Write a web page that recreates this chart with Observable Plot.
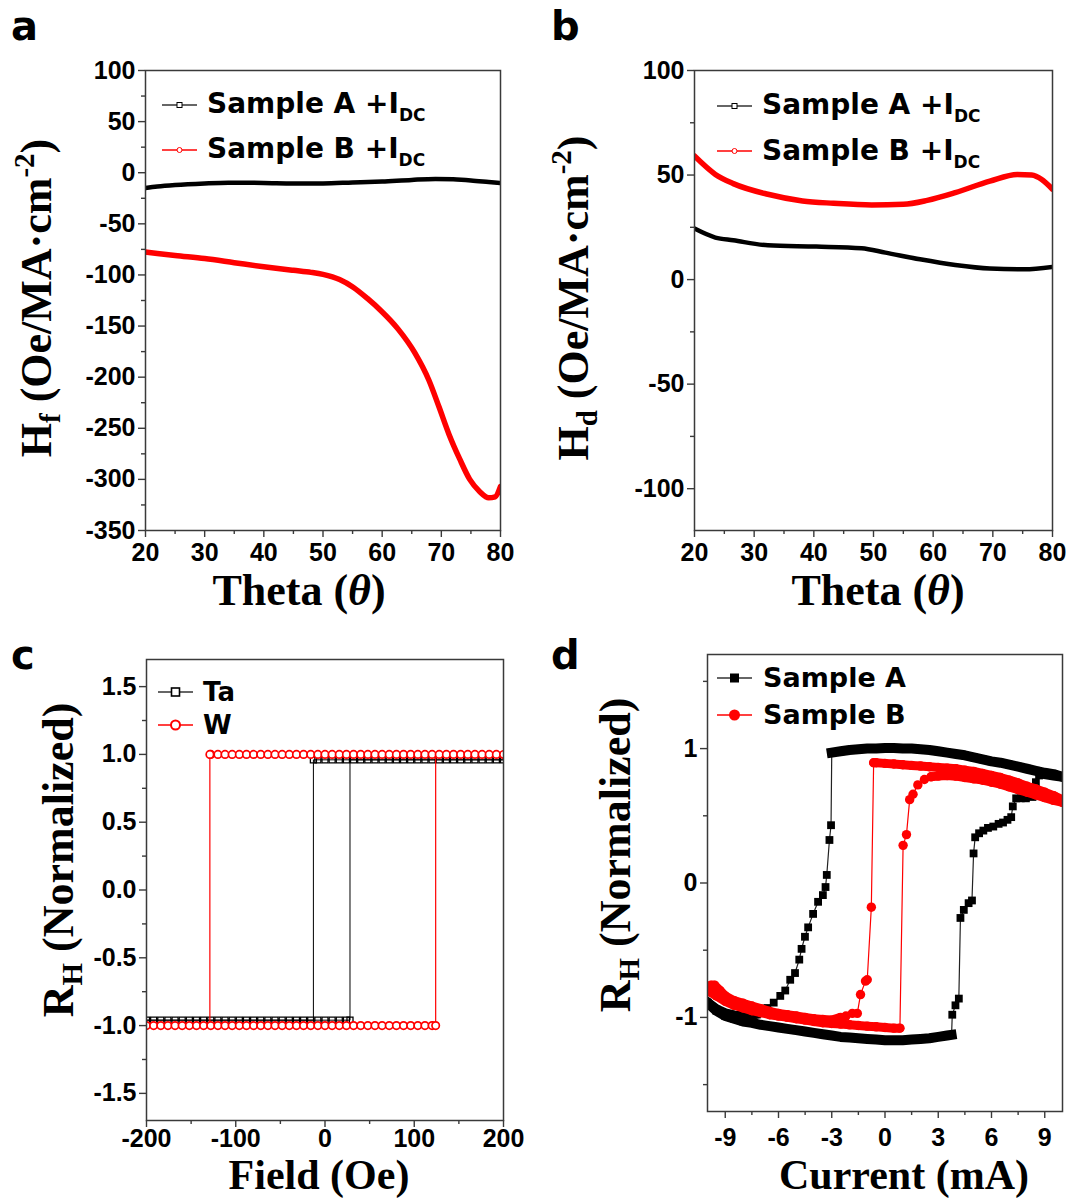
<!DOCTYPE html>
<html><head><meta charset="utf-8">
<script src="https://cdn.jsdelivr.net/npm/d3@7"></script>
<script src="https://cdn.jsdelivr.net/npm/@observablehq/plot@0.6"></script>
<style>
html,body{margin:0;padding:0;background:#fff;}
#fig{position:relative;width:1083px;height:1201px;overflow:hidden;background:#fff;}
</style></head><body><div id="fig"></div>
<script>
// ---------- Panel a : H_f vs theta ----------
const thetaA_a = [20, 22, 25, 30, 34, 40, 45, 50, 55, 60, 65, 69, 72, 75, 78, 80];
const hfSampleA = [-15, -13.5, -12, -10.5, -9.8, -10, -10.5, -10.5, -9.5, -8.5, -7, -6.2, -6.5, -7.5, -9, -10];
const thetaB_a = [20, 22, 25, 30, 35, 40, 45, 48, 50, 52.8, 55.1, 57.5, 59.8, 62.7, 65.5, 67.9, 69.6, 71.3, 73.1, 74.8, 76.5, 78, 79.1, 80];
const hfSampleB = [-77.5, -79, -81, -84, -88, -92, -95.5, -97.5, -99.5, -104.5, -112, -123, -135, -153, -176, -203, -229, -256, -280, -300, -312, -318, -317, -307];
const thetaTicks = [20, 30, 40, 50, 60, 70, 80];
const thetaMinor = [25, 35, 45, 55, 65, 75];
const hfTicks = [-350, -300, -250, -200, -150, -100, -50, 0, 50, 100];
const hfMinor = [-325, -275, -225, -175, -125, -75, -25, 25, 75];

// ---------- Panel b : H_d vs theta ----------
const thetaA_b = [20, 23.5, 26.5, 32.3, 40.4, 48, 52, 57.8, 63.7, 69.5, 75.3, 80];
const hdSampleA = [24.4, 20.1, 18.8, 16.4, 15.8, 15, 12.9, 9.7, 7, 5.3, 4.9, 6.1];
const thetaB_b = [20, 23.5, 26.5, 32.3, 38.1, 43.3, 49.7, 55, 59, 63.7, 69.5, 74.1, 76.5, 78.2, 80];
const hdSampleB = [59.1, 50.3, 45.9, 40.8, 37.6, 36.5, 35.7, 36, 37.9, 41.6, 47.1, 50.3, 50, 47.9, 43.2];
const hdTicks = [-100, -50, 0, 50, 100];
const hdMinor = [-75, -25, 25, 75];

// ---------- Panel c : R_H vs field ----------
const fieldSteps = [-200,-192,-184,-176,-168,-160,-152,-144,-136,-128,-120,-112,-104,-96,-88,-80,-72,-64,-56,-48,-40,-32,-24,-16,-8,0,8,16,24,32,40,48,56,64,72,80,88,96,104,112,120,128,136,144,152,160,168,176,184,192,200];
const taLevels = [-0.96, 0.96];      // low, high
const taSwitch = [-13, 28];          // switch down, switch up
const wLevels = [-1.0, 1.0];
const wSwitch = [-129, 124];
const fieldTicks = [-200, -100, 0, 100, 200];
const fieldMinor = [-150, -50, 50, 150];
const rhTicksC = [-1.5, -1, -0.5, 0, 0.5, 1, 1.5];
const rhMinorC = [-1.25, -0.75, -0.25, 0.25, 0.75, 1.25];

// ---------- Panel d : R_H vs current ----------
const sampleA_topDown = [[10,0.79],[9.5,0.81],[9,0.82],[8.5,0.835],[8,0.85],[7.5,0.865],[7,0.88],[6.5,0.895],[6,0.905],[5.5,0.92],[5,0.935],[4.5,0.95],[4,0.96],[3.5,0.97],[3,0.98],[2.5,0.99],[2,0.995],[1.5,1.0],[1,1.0],[0.5,1.005],[0,1.005],[-0.5,1.0],[-1,1.0],[-1.5,0.995],[-2,0.99],[-2.5,0.98],[-3,0.97]];
const sampleA_switchDown = [[-3.04,0.43],[-3.13,0.32],[-3.28,0.06],[-3.35,-0.03],[-3.5,-0.09],[-3.77,-0.14],[-4.05,-0.23],[-4.33,-0.33],[-4.51,-0.4],[-4.7,-0.49],[-4.83,-0.57],[-5.07,-0.67],[-5.34,-0.72],[-5.62,-0.8],[-5.9,-0.84],[-6.27,-0.89],[-6.63,-0.93],[-6.91,-0.96]];
const sampleA_bottomDown = [[-7.3,-0.975],[-8,-0.99],[-8.5,-0.985],[-9,-0.97],[-9.5,-0.94],[-10,-0.89]];
const sampleA_bottomUp = [[-10,-0.89],[-9.5,-0.95],[-9,-0.99],[-8.5,-1.01],[-8,-1.03],[-7.5,-1.04],[-7,-1.055],[-6.5,-1.065],[-6,-1.075],[-5.5,-1.085],[-5,-1.095],[-4.5,-1.105],[-4,-1.115],[-3.5,-1.125],[-3,-1.135],[-2.5,-1.145],[-2,-1.15],[-1.5,-1.155],[-1,-1.16],[-0.5,-1.165],[0,-1.17],[0.5,-1.17],[1,-1.17],[1.5,-1.165],[2,-1.16],[2.5,-1.155],[3,-1.145],[3.5,-1.135],[3.75,-1.13]];
const sampleA_switchUp = [[3.79,-0.98],[3.97,-0.91],[4.16,-0.86],[4.25,-0.26],[4.44,-0.2],[4.71,-0.15],[4.9,-0.13],[4.99,0.22],[5.08,0.34],[5.3,0.37],[5.54,0.39],[5.8,0.41],[6.1,0.42],[6.4,0.44],[6.65,0.45],[6.9,0.47],[7.11,0.49],[7.2,0.57],[7.39,0.63],[7.65,0.63],[7.94,0.63],[8.31,0.64],[8.5,0.75],[8.68,0.8]];
const sampleA_topUp = [[9,0.81],[9.5,0.8],[10,0.79]];

const sampleB_topDown = [[10,0.62],[9.5,0.65],[9,0.675],[8.5,0.7],[8,0.72],[7.5,0.745],[7,0.765],[6.5,0.785],[6,0.8],[5.5,0.815],[5,0.83],[4.5,0.84],[4,0.85],[3.5,0.855],[3,0.86],[2.5,0.865],[2,0.87],[1.5,0.875],[1,0.88],[0.5,0.885],[0,0.89],[-0.5,0.895],[-0.64,0.895]];
const sampleB_switchDown = [[-0.77,-0.18],[-1.0,-0.72],[-1.1,-0.73],[-1.38,-0.83],[-1.56,-0.97],[-1.84,-0.97],[-2.2,-0.99]];
const sampleB_bottomDown = [[-2.5,-1.0],[-3,-1.02],[-3.5,-1.015],[-4,-1.01],[-4.5,-1.0],[-5,-0.99],[-5.5,-0.98],[-6,-0.97],[-6.5,-0.955],[-7,-0.935],[-7.5,-0.915],[-8,-0.895],[-8.5,-0.875],[-9,-0.84],[-9.3,-0.8],[-9.6,-0.76],[-9.8,-0.76],[-10,-0.78]];
const sampleB_bottomUp = [[-10,-0.8],[-9.5,-0.84],[-9,-0.88],[-8.5,-0.91],[-8,-0.93],[-7.5,-0.95],[-7,-0.965],[-6.5,-0.98],[-6,-0.99],[-5.5,-1.0],[-5,-1.01],[-4.5,-1.02],[-4,-1.03],[-3.5,-1.04],[-3,-1.045],[-2.5,-1.05],[-2,-1.055],[-1.5,-1.06],[-1,-1.065],[-0.5,-1.07],[0,-1.075],[0.5,-1.08],[0.84,-1.08]];
const sampleB_switchUp = [[1.02,0.28],[1.21,0.36],[1.39,0.62],[1.58,0.66],[1.85,0.73],[2.22,0.77]];
const sampleB_topUp = [[2.59,0.79],[3,0.795],[3.5,0.8],[4,0.795],[4.5,0.785],[5,0.775],[5.5,0.765],[6,0.75],[6.5,0.735],[7,0.715],[7.5,0.695],[8,0.675],[8.5,0.655],[9,0.635],[9.5,0.615],[10,0.6]];
const currentTicks = [-9, -6, -3, 0, 3, 6, 9];
const currentMinor = [-7.5, -4.5, -1.5, 1.5, 4.5, 7.5];
const rhTicksD = [-1, 0, 1];
const rhMinorD = [-1.5, -0.5, 0.5, 1.5];

// ---------- helpers ----------
const fig = document.getElementById("fig");
const RED = "#ff0000", BLACK = "#000000", AX = "#3a3a3a";
const baseStyle = {fontFamily: "'Liberation Sans', Arial, sans-serif", fontSize: "25px", fontWeight: "bold", color: "#000", background: "transparent", overflow: "visible"};
const fmtInt = d => String(d);
const fmt1 = d => d.toFixed(1);
const blank = () => "";

function frameAxes(xt, xm, yt, ym, xf, yf, xPad = 6) {
  const common = {label: null, stroke: AX, strokeWidth: 1.4, fill: "#000", fontSize: 25, fontWeight: "bold"};
  return [
    Plot.axisX({...common, ticks: xt, tickSize: 7, tickPadding: xPad, tickFormat: xf}),
    Plot.axisX({...common, ticks: xm, tickSize: 4, tickFormat: blank}),
    Plot.axisY({...common, ticks: yt, tickSize: 7, tickPadding: 3, tickFormat: yf}),
    Plot.axisY({...common, ticks: ym, tickSize: 4, tickFormat: blank}),
    Plot.frame({stroke: AX, strokeWidth: 1.5})
  ];
}
function place(svg, left, top) {
  svg.style.position = "absolute";
  svg.style.left = left + "px";
  svg.style.top = top + "px";
  fig.appendChild(svg);
}
const zipRows = (xs, ys) => xs.map((x, i) => ({x, y: ys[i]}));

// ---------- Panel a ----------
const pa = Plot.plot({
  width: 540, height: 600, marginLeft: 145, marginRight: 40, marginTop: 70, marginBottom: 70,
  x: {domain: [20, 80]}, y: {domain: [-350, 100]}, style: baseStyle,
  marks: [
    Plot.line(zipRows(thetaA_a, hfSampleA), {x: "x", y: "y", stroke: BLACK, strokeWidth: 4.5, curve: "monotone-x", clip: true}),
    Plot.line(zipRows(thetaB_a, hfSampleB), {x: "x", y: "y", stroke: RED, strokeWidth: 5.5, curve: "monotone-x", clip: true}),
    ...frameAxes(thetaTicks, thetaMinor, hfTicks, hfMinor, fmtInt, fmtInt)
  ]
});
place(pa, 0, 0);

// ---------- Panel b ----------
const pb = Plot.plot({
  width: 542, height: 600, marginLeft: 153, marginRight: 31, marginTop: 70, marginBottom: 70,
  x: {domain: [20, 80]}, y: {domain: [-120, 100]}, style: baseStyle,
  marks: [
    Plot.line(zipRows(thetaA_b, hdSampleA), {x: "x", y: "y", stroke: BLACK, strokeWidth: 4.5, curve: "monotone-x", clip: true}),
    Plot.line(zipRows(thetaB_b, hdSampleB), {x: "x", y: "y", stroke: RED, strokeWidth: 5.5, curve: "monotone-x", clip: true}),
    ...frameAxes(thetaTicks, thetaMinor, hdTicks, hdMinor, fmtInt, fmtInt)
  ]
});
place(pb, 541, 0);

// ---------- Panel c ----------
function loopPath(levels, sw) {
  const [lo, hi] = levels, [down, up] = sw;
  return [[-200, lo], [up, lo], [up, hi], [200, hi], [down, hi], [down, lo], [-200, lo]].map(([x, y]) => ({x, y}));
}
function loopMarkers(levels, sw) {
  const [lo, hi] = levels, [down, up] = sw;
  const low = fieldSteps.filter(f => f < up).map(f => ({x: f, y: lo})).concat([{x: up, y: lo}]);
  const high = fieldSteps.filter(f => f > down).map(f => ({x: f, y: hi})).concat([{x: down, y: hi}]);
  return low.concat(high);
}
const pc = Plot.plot({
  width: 540, height: 601, marginLeft: 146, marginRight: 37, marginTop: 59, marginBottom: 81,
  x: {domain: [-200, 200]}, y: {domain: [-1.7, 1.7]}, style: baseStyle,
  marks: [
    Plot.line(loopPath(taLevels, taSwitch), {x: "x", y: "y", stroke: BLACK, strokeWidth: 1}),
    Plot.dot(loopMarkers(taLevels, taSwitch), {x: "x", y: "y", symbol: "square", r: 3.4, stroke: BLACK, strokeWidth: 1.3, fill: "none", clip: true}),
    Plot.line(loopPath(wLevels, wSwitch), {x: "x", y: "y", stroke: RED, strokeWidth: 1.2}),
    Plot.dot(loopMarkers(wLevels, wSwitch), {x: "x", y: "y", symbol: "circle", r: 3.7, stroke: RED, strokeWidth: 1.7, fill: "white", clip: true}),
    ...frameAxes(fieldTicks, fieldMinor, rhTicksC, rhMinorC, fmtInt, fmt1, 2)
  ]
});
place(pc, 0, 600);

// ---------- Panel d ----------
function sampleRows(sample, segs) {
  return segs.flatMap(([pts, band], k) => pts.map(([I, R]) => ({sample, seg: sample + k, band, I, R})));
}
const rowsA = sampleRows("A", [[sampleA_topDown, true], [sampleA_switchDown, false], [sampleA_bottomDown, true], [sampleA_bottomUp, true], [sampleA_switchUp, false], [sampleA_topUp, true]]);
const rowsB = sampleRows("B", [[sampleB_topDown, true], [sampleB_switchDown, false], [sampleB_bottomDown, true], [sampleB_bottomUp, true], [sampleB_switchUp, false], [sampleB_topUp, true]]);
const pd = Plot.plot({
  width: 542, height: 601, marginLeft: 166, marginRight: 21, marginTop: 54, marginBottom: 90,
  x: {domain: [-10, 10]}, y: {domain: [-1.7, 1.7]}, style: baseStyle,
  marks: [
    Plot.line(rowsA, {x: "I", y: "R", stroke: "#222", strokeWidth: 1.2, clip: true}),
    Plot.line(rowsA.filter(d => d.band), {x: "I", y: "R", z: "seg", stroke: BLACK, strokeWidth: 10, strokeLinecap: "square", clip: true}),
    Plot.dot(rowsA, {x: "I", y: "R", symbol: "square", r: 4.4, fill: BLACK, stroke: "none", clip: true}),
    Plot.line(rowsB, {x: "I", y: "R", stroke: RED, strokeWidth: 1.2, clip: true}),
    Plot.line(rowsB.filter(d => d.band), {x: "I", y: "R", z: "seg", stroke: RED, strokeWidth: 9, strokeLinecap: "round", clip: true}),
    Plot.dot(rowsB, {x: "I", y: "R", symbol: "circle", r: 4.7, fill: RED, stroke: "none", clip: true}),
    ...frameAxes(currentTicks, currentMinor, rhTicksD, rhMinorD, fmtInt, fmtInt, 10)
  ]
});
place(pd, 541, 600);

// ---------- overlay: panel letters, axis titles, legends ----------
const SERIF = "'Liberation Serif', 'Times New Roman', serif";
const SANS = "'DejaVu Sans', Verdana, sans-serif";
const TS = 44;
function yTitle(x, y, html) {
  return `<text x="${x}" y="${y}" transform="rotate(-90 ${x} ${y})" text-anchor="middle" font-family="${SERIF}" font-weight="bold" font-size="${TS}">${html}</text>`;
}
function xTitle(x, y, html, size = TS) {
  return `<text x="${x}" y="${y}" text-anchor="middle" font-family="${SERIF}" font-weight="bold" font-size="${size}">${html}</text>`;
}
const thetaHtml = `Theta (<tspan font-style="italic">θ</tspan>)`;
const hTitle = s => `H<tspan font-size="29" dy="9">${s}</tspan><tspan dy="-9"> (Oe/MA·cm</tspan><tspan font-size="29" dy="-17">-2</tspan><tspan dy="17">)</tspan>`;
const rTitle = `R<tspan font-size="29" dy="9">H</tspan><tspan dy="-9"> (Normalized)</tspan>`;
function legendText(x, y, label, sub, size) {
  return `<text x="${x}" y="${y}" font-family="${SANS}" font-weight="bold" font-size="${size}">${label}${sub ? `<tspan font-size="${Math.round(size*0.62)}" dy="8">${sub}</tspan>` : ""}</text>`;
}
function swatch(x1, x2, y, color, marker) {
  const cx = (x1 + x2) / 2;
  let m = "";
  if (marker === "sqOpenSmall") m = `<rect x="${cx-2.5}" y="${y-2.5}" width="5" height="5" fill="white" stroke="${color}" stroke-width="1"/>`;
  if (marker === "ciOpenSmall") m = `<circle cx="${cx}" cy="${y}" r="2.5" fill="white" stroke="${color}" stroke-width="1"/>`;
  if (marker === "sqOpen") m = `<rect x="${cx-4}" y="${y-4}" width="8" height="8" fill="white" stroke="${color}" stroke-width="1.6"/>`;
  if (marker === "ciOpen") m = `<circle cx="${cx}" cy="${y}" r="4.5" fill="white" stroke="${color}" stroke-width="2"/>`;
  if (marker === "sqFill") m = `<rect x="${cx-4.5}" y="${y-4.5}" width="9" height="9" fill="${color}"/>`;
  if (marker === "ciFill") m = `<circle cx="${cx}" cy="${y}" r="5.5" fill="${color}"/>`;
  const lc = color === BLACK ? "#333" : color;
  return `<line x1="${x1}" x2="${x2}" y1="${y}" y2="${y}" stroke="${lc}" stroke-width="1.5"/>${m}`;
}
const letter = (x, y, s) => `<text x="${x}" y="${y}" font-family="${SANS}" font-weight="bold" font-size="40">${s}</text>`;

const overlay = `<svg xmlns="http://www.w3.org/2000/svg" width="1083" height="1201" style="position:absolute;left:0;top:0">
${letter(11, 40, "a")}${letter(551, 40, "b")}${letter(11, 669, "c")}${letter(551, 669, "d")}
${yTitle(51, 298, hTitle("f"))}
${yTitle(588, 298, hTitle("d"))}
${yTitle(73, 860, rTitle)}
${yTitle(630, 855, rTitle)}
${xTitle(299, 605, thetaHtml)}
${xTitle(878, 605, thetaHtml)}
${xTitle(319, 1189, "Field (Oe)", 42)}
${xTitle(904, 1189, "Current (mA)", 42)}
${swatch(162, 197, 105, BLACK, "sqOpenSmall")}${legendText(207, 113, "Sample A +I", "DC", 28)}
${swatch(162, 197, 150, RED, "ciOpenSmall")}${legendText(207, 158, "Sample B +I", "DC", 28)}
${swatch(717, 752, 106, BLACK, "sqOpenSmall")}${legendText(762, 114, "Sample A +I", "DC", 28)}
${swatch(717, 752, 151, RED, "ciOpenSmall")}${legendText(762, 160, "Sample B +I", "DC", 28)}
${swatch(158, 193, 692, BLACK, "sqOpen")}${legendText(203, 701, "Ta", "", 26)}
${swatch(158, 193, 725, RED, "ciOpen")}${legendText(203, 734, "W", "", 26)}
${swatch(717, 752, 678, BLACK, "sqFill")}${legendText(763, 687, "Sample A", "", 27)}
${swatch(717, 752, 715, RED, "ciFill")}${legendText(763, 724, "Sample B", "", 27)}
</svg>`;
fig.insertAdjacentHTML("beforeend", overlay);
</script></body></html>
